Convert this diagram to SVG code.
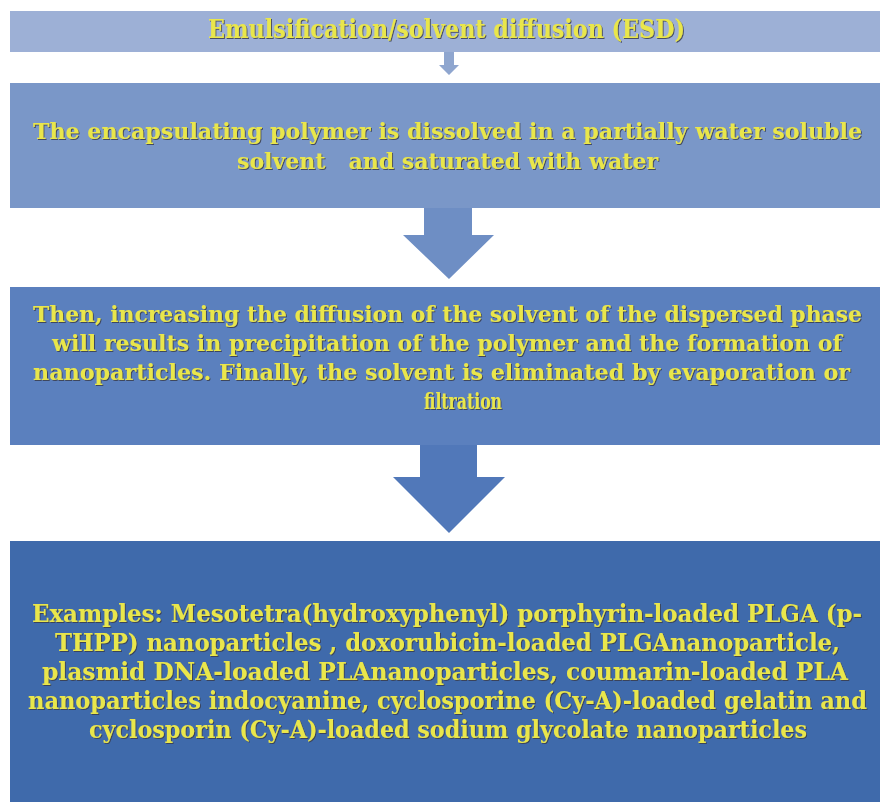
<svg xmlns="http://www.w3.org/2000/svg" width="880" height="802" viewBox="0 0 880 802">
<defs>
<style>
.t{font-family:"DejaVu Serif Condensed","DejaVu Serif","Liberation Serif",serif;font-stretch:condensed;font-weight:bold;fill:#e9e64c;filter:url(#sh);}
.s{font-size:22px;}
.b{font-size:24px;}
</style>
<filter id="sh" x="-5%" y="-30%" width="110%" height="160%">
<feDropShadow dx="1" dy="1" stdDeviation="0.7" flood-color="#3a3e4e" flood-opacity="0.85"/>
</filter>
</defs>
<rect width="880" height="802" fill="#ffffff"/>
<g id="connectors">
<polygon points="444,52 454,52 454,65 459,65 449,75 439,65 444,65" fill="#8fa6cf"/>
<polygon points="424,208 472,208 472,235 494,235 449,279 403,235 424,235" fill="#6e8ec4"/>
<polygon points="420,445 477,445 477,477 505,477 449,533 393,477 420,477" fill="#5178b9"/>
</g>
<g id="node-esd">
<rect x="10" y="11" width="870" height="41" fill="#9db0d6"/>
<text class="t" x="208" y="38" font-size="26" textLength="477" lengthAdjust="spacingAndGlyphs">Emulsification/solvent diffusion (ESD)</text>
</g>
<g id="node-dissolve">
<rect x="10" y="83" width="870" height="125" fill="#7a97c8"/>
<text class="t s" x="33" y="139" textLength="829" lengthAdjust="spacingAndGlyphs">The encapsulating polymer is dissolved in a partially water soluble</text>
<text class="t s" x="237" y="169" textLength="421" lengthAdjust="spacingAndGlyphs" xml:space="preserve">solvent   and saturated with water</text>
</g>
<g id="node-diffusion">
<rect x="10" y="287" width="870" height="158" fill="#5b80be"/>
<text class="t s" x="33" y="322" textLength="829" lengthAdjust="spacingAndGlyphs">Then, increasing the diffusion of the solvent of the dispersed phase</text>
<text class="t s" x="52" y="351" textLength="790" lengthAdjust="spacingAndGlyphs">will results in precipitation of the polymer and the formation of</text>
<text class="t s" x="33" y="380" textLength="817" lengthAdjust="spacingAndGlyphs">nanoparticles. Finally, the solvent is eliminated by evaporation or</text>
<text class="t s" x="424" y="409" textLength="78" lengthAdjust="spacingAndGlyphs">filtration</text>
</g>
<g id="node-examples">
<rect x="10" y="541" width="870" height="261" fill="#3f6aab"/>
<text class="t b" x="32" y="622" textLength="830" lengthAdjust="spacingAndGlyphs">Examples: Mesotetra(hydroxyphenyl) porphyrin-loaded PLGA (p-</text>
<text class="t b" x="55" y="651" textLength="785" lengthAdjust="spacingAndGlyphs">THPP) nanoparticles , doxorubicin-loaded PLGAnanoparticle,</text>
<text class="t b" x="42" y="680" textLength="806" lengthAdjust="spacingAndGlyphs">plasmid DNA-loaded PLAnanoparticles, coumarin-loaded PLA</text>
<text class="t b" x="28" y="709" textLength="839" lengthAdjust="spacingAndGlyphs">nanoparticles indocyanine, cyclosporine (Cy-A)-loaded gelatin and</text>
<text class="t b" x="89" y="738" textLength="718" lengthAdjust="spacingAndGlyphs">cyclosporin (Cy-A)-loaded sodium glycolate nanoparticles</text>
</g>
</svg>
